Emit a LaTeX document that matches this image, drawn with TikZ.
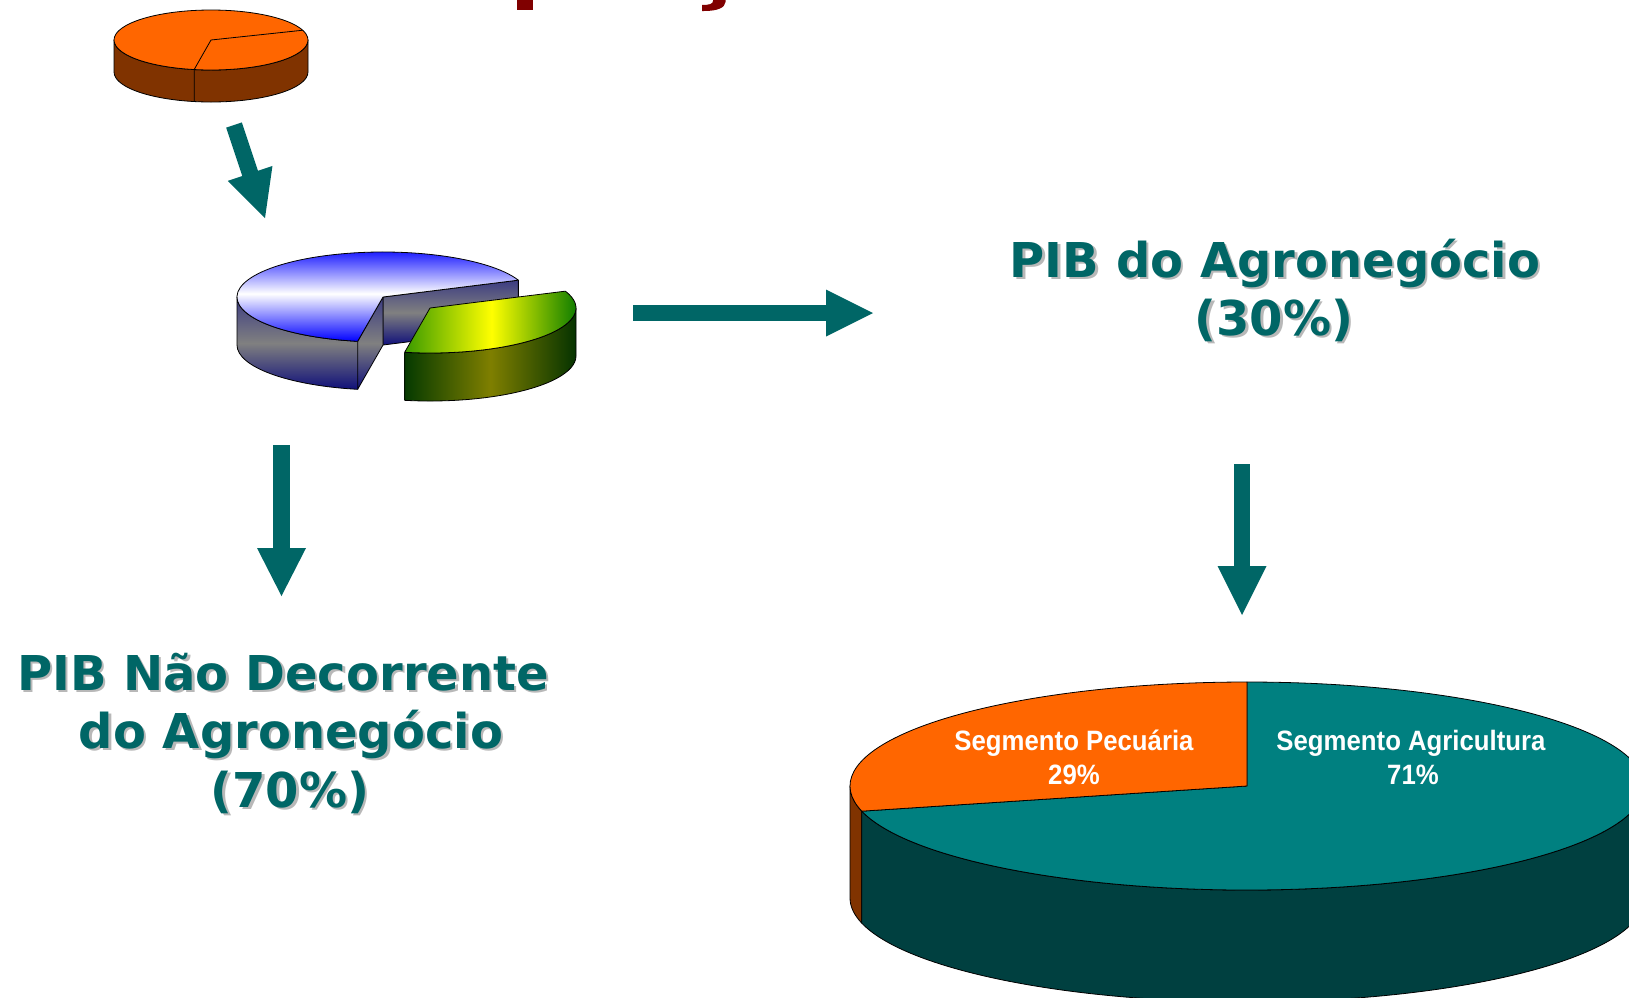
\documentclass[tikz,border=0pt]{standalone}
\usepackage{fontspec}
\usetikzlibrary{calc}
\newfontfamily\titlefont{DejaVu Sans}
\newfontfamily\labfont{Liberation Sans}[FakeStretch=0.92]
\definecolor{tealtxt}{HTML}{006666}
\definecolor{darkred}{HTML}{800000}
\definecolor{orangetop}{HTML}{FF6600}
\definecolor{orangeside}{HTML}{803300}
\definecolor{tealtop}{HTML}{008080}
\definecolor{tealside}{HTML}{004040}
\definecolor{navyside}{HTML}{3C3C82}
\definecolor{navydeep}{HTML}{10107A}
\definecolor{midgray}{HTML}{808080}
\definecolor{yelleft}{HTML}{3A9A00}
\definecolor{yelright}{HTML}{0A7A00}
\definecolor{olivemid}{HTML}{7F7F00}
\definecolor{dkgreenL}{HTML}{053A00}
\definecolor{dkgreenR}{HTML}{053300}
\tikzset{
  pieline/.style={draw=black, line width=0.8pt, line join=round},
  bluetop/.style={pieline, top color=blue, bottom color=blue, middle color=white},
  blueside/.style={pieline, top color=navyside, bottom color=navydeep, middle color=midgray},
  yeltop/.style={pieline, left color=yelleft, right color=yelright, middle color=yellow},
  yelside/.style={pieline, left color=dkgreenL, right color=dkgreenR, middle color=olivemid},
  titletext/.style={font=\titlefont\bfseries\fontsize{48}{58}\selectfont, text=tealtxt, anchor=base, inner sep=0pt},
  titleshadow/.style={titletext, text=black!28},
  lab/.style={font=\labfont\bfseries\fontsize{28}{35}\selectfont, text=white, anchor=base, inner sep=0pt}
}
% #1 start, #2 end, #3 shaft width, #4 head length, #5 head half width, #6 shaft shortening
\newcommand\barrowdraw[6]{%
  \coordinate (#2-hb) at ($(#2)!#4!(#1)$);
  \draw[tealtxt, line width=#3, shorten >=#6] (#1) -- (#2);
  \fill[tealtxt] (#2) -- ($(#2-hb)!#5!90:(#2)$) -- ($(#2-hb)!#5!-90:(#2)$) -- cycle;
}
\begin{document}
\begin{tikzpicture}[x=1pt,y=1pt]
\useasboundingbox (0,0) rectangle (1629,-997);
\clip (0,0) rectangle (1629,-997);
\fill[white] (0,0) rectangle (1629,-997);

% fragments of the cut-off title
\fill[darkred] (517,1) rectangle (533,-10);
\fill[darkred] (713,1) -- (725.5,1) -- (725.5,-2) .. controls (725,-8) and (717,-11) .. (704,-11) -- (702,-11) -- (702,-5) .. controls (709,-5) and (713,-4) .. (713,-1) -- cycle;

% small orange pie
\coordinate (c1) at (211,-40);
\filldraw[pieline, fill=orangeside] ($(c1)+(180:97pt and 30pt)$) arc[start angle=180,end angle=360,x radius=97pt,y radius=30pt] -- ++(0,-32) arc[start angle=360,end angle=180,x radius=97pt,y radius=30pt] -- cycle;
\filldraw[pieline, fill=orangetop] (c1) ellipse[x radius=97pt,y radius=30pt];
\draw[pieline] ($(c1)+(19:97pt and 30pt)$) -- (c1) -- ($(c1)+(260:97pt and 30pt)$) -- ++(0,-32);

% blue / yellow exploded pie
\coordinate (c2) at (383,-297);
\shadedraw[blueside] (c2) -- ($(c2)+(22:146pt and 45pt)$) -- ++(0,-48) -- ($(c2)+(0,-48)$) -- cycle;
\shadedraw[blueside] ($(c2)+(180:146pt and 45pt)$) arc[start angle=180,end angle=260,x radius=146pt,y radius=45pt] -- ++(0,-48) arc[start angle=260,end angle=180,x radius=146pt,y radius=45pt] -- cycle;
\shadedraw[blueside] (c2) -- ($(c2)+(260:146pt and 45pt)$) -- ++(0,-48) -- ($(c2)+(0,-48)$) -- cycle;
\shadedraw[bluetop] (c2) -- ($(c2)+(22:146pt and 45pt)$) arc[start angle=22,end angle=260,x radius=146pt,y radius=45pt] -- cycle;

\coordinate (c3) at (430,-308);
\shadedraw[yelside] ($(c3)+(260:146pt and 45pt)$) arc[start angle=260,end angle=360,x radius=146pt,y radius=45pt] -- ++(0,-48) arc[start angle=360,end angle=260,x radius=146pt,y radius=45pt] -- cycle;
\shadedraw[yeltop] (c3) -- ($(c3)+(260:146pt and 45pt)$) arc[start angle=260,end angle=382,x radius=146pt,y radius=45pt] -- cycle;

% big pie
\coordinate (c4) at (1247,-786);
\filldraw[pieline, fill=orangeside] ($(c4)+(180:397pt and 104pt)$) arc[start angle=180,end angle=194,x radius=397pt,y radius=104pt] -- ++(0,-112) arc[start angle=194,end angle=180,x radius=397pt,y radius=104pt] -- cycle;
\filldraw[pieline, fill=tealside] ($(c4)+(194:397pt and 104pt)$) arc[start angle=194,end angle=360,x radius=397pt,y radius=104pt] -- ++(0,-112) arc[start angle=360,end angle=194,x radius=397pt,y radius=104pt] -- cycle;
\filldraw[pieline, fill=tealtop] (c4) -- ($(c4)+(194:397pt and 104pt)$) arc[start angle=194,end angle=450,x radius=397pt,y radius=104pt] -- cycle;
\filldraw[pieline, fill=orangetop] (c4) -- ($(c4)+(90:397pt and 104pt)$) arc[start angle=90,end angle=194,x radius=397pt,y radius=104pt] -- cycle;

\node[lab] (pec1) at (1074,-750) {Segmento Pecuária};
\node[lab] (pec2) at (1074,-784) {29\%};
\node[lab] (agr1) at (1411,-750) {Segmento Agricultura};
\node[lab] (agr2) at (1413,-784) {71\%};

% titles
\node[titleshadow] (agroAs) at (1277.5,-279.5) {PIB do Agronegócio};
\node[titleshadow] (agroBs) at (1276.5,-337.5) {(30\%)};
\node[titletext] (agroA) at (1275,-277) {PIB do Agronegócio};
\node[titletext] (agroB) at (1274,-335) {(30\%)};

\node[titleshadow] (naoAs) at (285.5,-692.5) {PIB Não Decorrente};
\node[titleshadow] (naoBs) at (293.5,-750.5) {do Agronegócio};
\node[titleshadow] (naoCs) at (292.5,-809.5) {(70\%)};
\node[titletext] (naoA) at (283,-690) {PIB Não Decorrente};
\node[titletext] (naoB) at (291,-748) {do Agronegócio};
\node[titletext] (naoC) at (290,-807) {(70\%)};

% arrows
\coordinate (a1s) at (234,-125);
\coordinate (a1e) at (265,-218);
\coordinate (a2s) at (633,-313);
\coordinate (a2e) at (873,-313);
\coordinate (a3s) at (281.5,-445);
\coordinate (a3e) at (281.5,-596);
\coordinate (a4s) at (1242,-464);
\coordinate (a4e) at (1242,-615);
\barrowdraw{a1s}{a1e}{16.5pt}{47pt}{23.5pt}{44pt}
\barrowdraw{a2s}{a2e}{16pt}{47pt}{23.5pt}{44pt}
\barrowdraw{a3s}{a3e}{17pt}{48pt}{24.5pt}{45pt}
\barrowdraw{a4s}{a4e}{16pt}{49pt}{24.5pt}{46pt}
\end{tikzpicture}
\end{document}
